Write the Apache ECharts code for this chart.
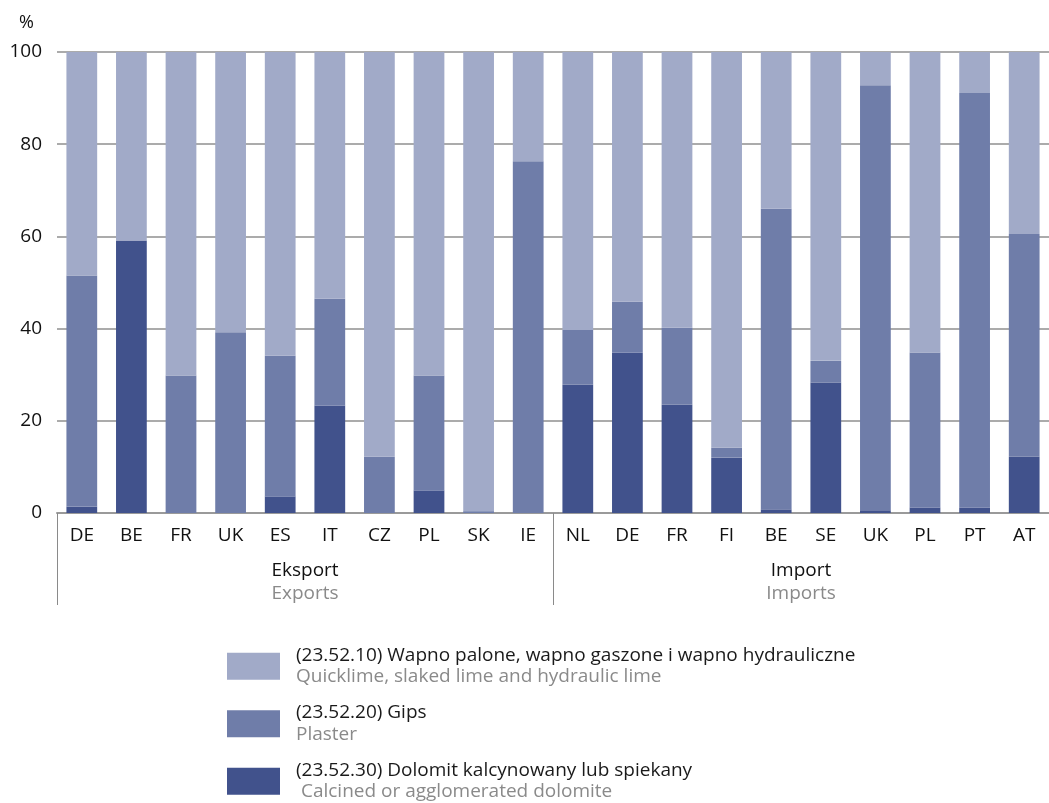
<!DOCTYPE html>
<html>
<head>
<meta charset="utf-8">
<script src="https://cdn.jsdelivr.net/npm/echarts@6/dist/echarts.min.js"></script>
<style>
html,body{margin:0;padding:0;background:#fff;}
#chart{width:1049px;height:803px;}
</style>
</head>
<body>
<div id="chart"></div>
<script>
var categories = ['DE','BE','FR','UK','ES','IT','CZ','PL','SK','IE','NL','DE','FR','FI','BE','SE','UK','PL','PT','AT'];
var groups = ['Eksport', 'Import'];
var groupsEn = ['Exports', 'Imports'];
var yTicks = [0, 20, 40, 60, 80, 100];

var seriesNames = [
  '(23.52.10) Wapno palone, wapno gaszone i wapno hydrauliczne',
  '(23.52.20) Gips',
  '(23.52.30) Dolomit kalcynowany lub spiekany'
];
var seriesNamesEn = [
  'Quicklime, slaked lime and hydraulic lime',
  'Plaster',
  ' Calcined or agglomerated dolomite'
];

var lime    = [48.5, 40.9, 70.2, 60.8, 65.9, 53.5, 87.8, 70.2, 99.6, 23.7, 60.3, 54.2, 59.8, 85.8, 34.0, 67.0, 7.2, 65.2, 8.9, 39.5];
var gips    = [50.1, 0, 29.8, 39.2, 30.5, 23.2, 12.2, 24.9, 0.4, 76.3, 11.9, 11.0, 16.7, 2.2, 65.2, 4.7, 92.2, 33.6, 89.9, 48.3];
var dolomit = [1.4, 59.1, 0, 0, 3.6, 23.3, 0, 4.9, 0, 0, 27.8, 34.8, 23.5, 12.0, 0.8, 28.3, 0.6, 1.2, 1.2, 12.2];

var colors = ['#A1AAC8', '#6F7DA9', '#41528C'];
var FONT = '"Open Sans", "DejaVu Sans", sans-serif';

var chart = echarts.init(document.getElementById('chart'), null, {renderer: 'canvas'});

var enMap = {};
seriesNames.forEach(function (n, i) { enMap[n] = seriesNamesEn[i]; });
var grpEn = {};
groups.forEach(function (g, i) { grpEn[g] = groupsEn[i]; });

var option = {
  animation: false,
  textStyle: {fontFamily: FONT},
  grid: {left: 57, right: 0, top: 52, bottom: 290, containLabel: false},
  legend: {
    orient: 'vertical',
    left: 227,
    top: 646,
    height: 200,
    padding: 0,
    itemWidth: 53,
    itemHeight: 27,
    itemGap: 17,
    icon: 'rect',
    selectedMode: false,
    data: seriesNames.slice(),
    formatter: function (name) {
      return '{a|' + name + '}\n{b|' + enMap[name] + '}';
    },
    textStyle: {
      padding: [0, 0, 0, 11],
      rich: {
        a: {fontFamily: FONT, fontSize: 19, color: '#1a1a1a', lineHeight: 21.5},
        b: {fontFamily: FONT, fontSize: 19, color: '#8a8a8a', lineHeight: 21.5}
      }
    }
  },
  xAxis: [
    {
      type: 'category',
      data: categories,
      position: 'bottom',
      axisLine: {show: true, lineStyle: {color: '#9a9a9a', width: 2}},
      axisTick: {show: false},
      axisLabel: {color: '#111', fontSize: 19, margin: 13, fontFamily: FONT, interval: 0}
    },
    {
      type: 'category',
      data: groups,
      position: 'bottom',
      boundaryGap: true,
      axisLine: {show: false},
      axisTick: {show: true, inside: false, length: 92, lineStyle: {color: '#8a8a8a', width: 1}},
      axisLabel: {
        margin: 46,
        interval: 0,
        formatter: function (v) { return '{a|' + v + '}\n{b|' + grpEn[v] + '}'; },
        rich: {
          a: {fontFamily: FONT, fontSize: 19, color: '#111', lineHeight: 23},
          b: {fontFamily: FONT, fontSize: 19, color: '#8a8a8a', lineHeight: 23}
        }
      },
      splitLine: {show: false}
    }
  ],
  yAxis: {
    type: 'value',
    min: yTicks[0],
    max: yTicks[yTicks.length - 1],
    interval: yTicks[1] - yTicks[0],
    name: '%',
    nameLocation: 'end',
    nameGap: 29,
    nameTextStyle: {color: '#111', fontSize: 18, fontFamily: FONT, align: 'right', verticalAlign: 'middle', padding: [0, 23, 0, 0]},
    axisLine: {show: false},
    axisTick: {show: false},
    axisLabel: {color: '#111', fontSize: 19, margin: 15, fontFamily: FONT},
    splitLine: {lineStyle: {color: '#8f8f8f', width: 1.5}}
  },
  series: [
    {name: seriesNames[2], type: 'bar', stack: 'total', data: dolomit, barWidth: '62%', itemStyle: {color: colors[2]}},
    {name: seriesNames[1], type: 'bar', stack: 'total', data: gips, barWidth: '62%', itemStyle: {color: colors[1]}},
    {name: seriesNames[0], type: 'bar', stack: 'total', data: lime, barWidth: '62%', itemStyle: {color: colors[0]}}
  ]
};
chart.setOption(option);
</script>
</body>
</html>
